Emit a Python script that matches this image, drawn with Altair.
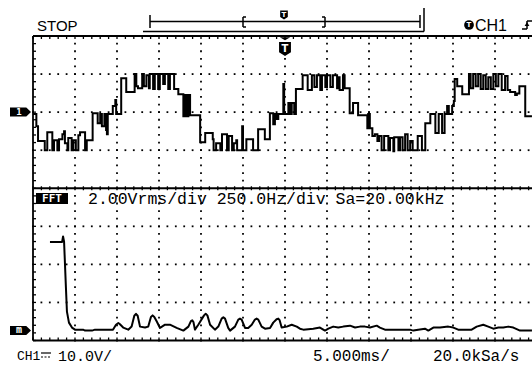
import altair as alt
import pandas as pd

# ---- instrument settings (read from the on-screen read-outs) ----
TIME_PER_DIV_MS = 5.0      # 5.000ms/
VOLT_PER_DIV = 10.0        # CH1 10.0V/
FFT_HZ_PER_DIV = 250.0     # 250.0Hz/div
FFT_VRMS_PER_DIV = 2.0     # 2.00Vrms/div
TRIGGER_DIV = 6.0          # trigger point, divisions from the left edge
CH1_REF_DIV = 6.0          # CH1 ground marker, divisions above the bottom
FFT_REF_DIV = 0.26         # FFT reference ("M" marker), divisions above bottom

# ---- CH1 trace: time (ms, relative to trigger) / volts, step-after ----
ch1_time_ms = [
    -30.0, -29.6, -29.4, -28.6, -28.3, -27.7, -27.5, -27.1, -26.9, -26.5,
    -26.3, -26.2, -25.9, -25.8, -25.4, -25.2, -24.9, -24.6, -24.4, -23.8,
    -23.6, -22.9, -22.3, -22.0, -21.8, -21.5, -21.3, -21.2, -21.1, -20.5,
    -20.2, -20.1, -19.5, -18.9, -17.9, -17.7, -17.5, -17.0, -16.8, -16.5,
    -16.2, -16.1, -15.7, -15.5, -15.1, -14.9, -14.5, -14.3, -13.9, -13.7,
    -13.2, -12.7, -12.1, -11.9, -11.7, -11.5, -11.3,
    -10.1, -9.5, -8.6, -8.5, -8.2, -7.7, -7.5, -6.9, -6.7, -6.3,
    -6.1, -5.8, -5.7, -5.1, -5.0, -4.6, -3.8, -3.2, -2.4, -1.8,
    -1.4, -1.2, -1.0, -0.8, -0.2, -0.1, 0.4, 0.6, 0.8, 1.1,
    1.3, 2.1, 2.7, 3.2, 3.5, 3.8, 4.2, 4.4, 4.8, 5.0,
    5.4, 5.7, 6.2, 6.3, 6.5, 6.9, 7.1, 7.7, 8.1, 8.7,
    9.8, 9.9, 10.1, 10.4, 10.7, 11.0, 11.2, 11.5, 11.8, 12.3,
    12.5, 12.9, 13.0, 13.5, 13.7, 14.0, 14.3, 14.6, 14.9, 15.2,
    15.8, 16.3, 16.7, 17.3, 17.9, 18.3, 18.7, 19.0, 19.3, 19.5,
    19.9, 20.1, 20.2, 20.5, 21.1, 21.9, 22.1, 22.4, 22.7, 23.0,
    23.3, 23.6, 23.9, 24.2, 24.5, 24.8, 25.1, 25.4, 25.8, 26.2,
    26.5, 26.8, 27.4, 27.6, 27.9, 28.6, 29.4,
]
ch1_volts = [
    -0.5, -3.7, -7.6, -10.0, -5.3, -10.0, -7.4, -10.0, -7.1, -5.8,
    -5.0, -8.2, -10.0, -6.8, -10.0, -7.4, -10.0, -6.1, -5.3, -10.0,
    -7.4, -0.3, -2.9, -0.5, -3.7, -0.5, -4.7, -5.8, -0.5, 1.6,
    3.2, -0.5, 8.9, 5.3, 10.0, 6.8, 6.3, 10.0, 6.8, 9.7,
    6.3, 10.0, 6.1, 10.0, 6.1, 10.0, 7.4, 10.0, 6.1, 10.0,
    6.1, 4.7, -1.1, 4.5, -1.1, 4.5, -0.8,
    -7.9, -5.5, -7.1, -10.0, -8.2, -10.0, -5.8, -10.0, -6.3, -10.0,
    -8.2, -7.4, -10.0, -3.7, -10.0, -7.1, -10.0, -4.5, -7.1, -0.3,
    -3.2, -0.5, -1.8, -0.5, 7.4, -0.5, 2.4, -0.5, 2.4, -0.5,
    6.1, 9.7, 5.8, 9.7, 6.6, 9.7, 5.8, 9.7, 6.6, 9.7,
    6.6, 9.7, 6.3, 9.2, 5.8, 9.7, 6.3, -0.3, 2.4, -0.8,
    -4.2, -0.5, -4.2, -6.3, -5.8, -7.6, -6.3, -10.0, -6.3, -10.0,
    -6.8, -10.3, -6.6, -10.0, -6.6, -10.0, -5.8, -10.0, -7.6, -10.0,
    -6.3, -10.0, -2.9, -0.5, -5.5, -0.5, -5.5, -0.5, 1.6, -0.5,
    1.6, 2.9, 8.7, 6.8, 4.7, 10.0, 6.3, 10.0, 6.8, 10.0,
    6.1, 9.7, 6.1, 9.2, 6.1, 10.0, 6.8, 10.0, 5.8, 9.5,
    5.8, 5.3, 4.5, 4.9, 6.8, -1.1, -1.1,
]

# ---- FFT trace: frequency (Hz) / amplitude (Vrms) ----
fft_freq_hz = [
    101, 173, 179, 185, 196, 202, 214, 232, 250, 298,
    310, 351, 369, 476, 494, 508, 516, 537, 567, 587,
    603, 613, 623, 637, 667, 686, 702, 712, 722, 736,
    756, 786, 815, 855, 895, 925, 940, 948, 955, 964,
    984, 1018, 1028, 1038, 1054, 1083, 1103, 1123, 1133, 1143,
    1162, 1173, 1202, 1222, 1232, 1242, 1262, 1281, 1302, 1321,
    1331, 1341, 1361, 1381, 1411, 1430, 1450, 1460, 1468, 1480,
    1510, 1540, 1570, 1589, 1609, 1668, 1708, 1738, 1758, 1787,
    1817, 1847, 1887, 1917, 1946, 1976, 2006, 2046, 2065, 2095,
    2244, 2264, 2293, 2333, 2353, 2383, 2423, 2472, 2502, 2531,
    2571, 2611, 2641, 2680, 2710, 2740, 2770, 2799, 2829, 2859,
    2899, 2970,
]
fft_vrms = [
    4.65, 4.65, 4.95, 4.67, 2.26, 1.00, 0.42, 0.16, 0.05, 0.05,
    0.0, 0.0, 0.05, 0.05, 0.31, 0.40, 0.35, 0.16, 0.05, 0.21,
    0.78, 0.88, 0.78, 0.21, 0.16, 0.21, 0.72, 0.80, 0.72, 0.49,
    0.14, 0.31, 0.31, 0.14, 0.0, 0.21, 0.50, 0.54, 0.45, 0.05,
    0.31, 0.80, 0.88, 0.80, 0.31, 0.05, 0.21, 0.63, 0.70, 0.63,
    0.14, 0.0, 0.21, 0.58, 0.63, 0.58, 0.14, 0.14, 0.31, 0.58,
    0.63, 0.58, 0.21, 0.10, 0.14, 0.42, 0.60, 0.63, 0.55, 0.16,
    0.21, 0.31, 0.21, 0.10, 0.05, 0.10, 0.16, 0.0, 0.10, 0.21,
    0.16, 0.21, 0.26, 0.16, 0.21, 0.21, 0.16, 0.26, 0.16, 0.05,
    0.05, 0.0, 0.05, 0.10, 0.0, 0.16, 0.16, 0.21, 0.16, 0.05,
    0.05, 0.05, 0.21, 0.31, 0.21, 0.10, 0.16, 0.16, 0.21, 0.16,
    0.0, 0.0,
]

# ---- screen texts ----
status_text = "STOP"
trig_source = "CH1"
fft_tag = "FFT"
fft_info = "2.00Vrms/div 250.0Hz/div Sa=20.00kHz"
ch1_label = "CH1"
ch1_scale = "10.0V/"
time_scale = "5.000ms/"
sample_rate = "20.0kSa/s"

# ---- build tables in screen divisions ----
ch1 = pd.DataFrame({"t": ch1_time_ms, "v": ch1_volts})
ch1["xd"] = TRIGGER_DIV + ch1["t"] / TIME_PER_DIV_MS
ch1["yd"] = CH1_REF_DIV + ch1["v"] / VOLT_PER_DIV

fft = pd.DataFrame({"f": fft_freq_hz, "a": fft_vrms})
fft["xd"] = fft["f"] / FFT_HZ_PER_DIV
fft["yd"] = FFT_REF_DIV + fft["a"] / FFT_VRMS_PER_DIV

W, H = 532, 369
X0, DX = 33.0, 42.0      # graticule left edge (px), px per division
Y0, DY = 340.5, 38.06    # graticule bottom edge (px), px per division
xs = alt.Scale(domain=[-X0 / DX, (W - X0) / DX], nice=False, zero=False)
ys = alt.Scale(domain=[(Y0 - H) / DY, Y0 / DY], nice=False, zero=False)


def XQ(f):
    return alt.X(f, type="quantitative", scale=xs, axis=None)


def YQ(f):
    return alt.Y(f, type="quantitative", scale=ys, axis=None)


ONE = pd.DataFrame({"k": [0]})
layers = []

# graticule dots: 5 per division along each interior grid line
gx, gy = [], []
for i in range(1, 12):
    for k in range(41):
        gx.append(float(i)); gy.append(k * 0.2)
for j in (1, 2, 3, 5, 6, 7):
    for k in range(61):
        gx.append(k * 0.2); gy.append(float(j))
dots = pd.DataFrame({"xd": gx, "yd": gy})
layers.append(
    alt.Chart(dots).mark_square(color="black", size=3.2, opacity=1)
    .encode(x=XQ("xd"), y=YQ("yd"))
)

# solid frame lines
frame = pd.DataFrame({
    "x1": [0.0, 0.0, 0.0, 0.0], "x2": [0.0, 12.0, 12.0, 12.0],
    "y1": [0.0, 8.0, 4.0, 0.0], "y2": [8.0, 8.0, 4.0, 0.0],
})
# small ticks on the frame
tx1, tx2, ty1, ty2 = [], [], [], []
for k in range(41):
    tx1.append(0.0); tx2.append(3 / DX); ty1.append(k * 0.2); ty2.append(k * 0.2)
for k in range(61):
    x = k * 0.2
    tx1 += [x, x, x]; tx2 += [x, x, x]
    ty1 += [8.0, 4.0 - 2 / DY, 0.0]
    ty2 += [8.0 - 3 / DY, 4.0 + 2 / DY, 3 / DY]
ticks = pd.DataFrame({"x1": tx1, "x2": tx2, "y1": ty1, "y2": ty2})
for df, w in ((frame, 1.8), (ticks, 1.3)):
    layers.append(
        alt.Chart(df).mark_rule(color="black", strokeWidth=w)
        .encode(x=XQ("x1"), x2="x2", y=YQ("y1"), y2="y2")
    )

# traces
layers.append(
    alt.Chart(ch1).mark_line(color="black", strokeWidth=2, interpolate="step-after")
    .encode(x=XQ("xd"), y=YQ("yd"))
)
layers.append(
    alt.Chart(fft).mark_line(color="black", strokeWidth=2, strokeJoin="round")
    .encode(x=XQ("xd"), y=YQ("yd"))
)


def txt(s, x, y, size=15, font="Liberation Mono", color="black", align="left", weight="normal"):
    return alt.Chart(ONE).mark_text(
        text=s, font=font, fontSize=size, color=color, align=align,
        baseline="middle", fontWeight=weight,
    ).encode(x=alt.value(x), y=alt.value(y))


def seg(x1, y1, x2, y2, w=1.5, dash=None):
    kw = dict(color="black", strokeWidth=w)
    if dash is not None:
        kw["strokeDash"] = dash
    return alt.Chart(ONE).mark_rule(**kw).encode(
        x=alt.value(x1), x2=alt.value(x2), y=alt.value(y1), y2=alt.value(y2))


def sym(shape, x, y, size, color="black"):
    return alt.Chart(ONE).mark_point(
        shape=shape, size=size, filled=True, color=color, opacity=1, strokeWidth=0
    ).encode(x=alt.value(x), y=alt.value(y))


def rect(x1, y1, x2, y2):
    return alt.Chart(ONE).mark_rect(color="black").encode(
        x=alt.value(x1), x2=alt.value(x2), y=alt.value(y1), y2=alt.value(y2))


FLAG = "M-1,-0.43 L0.55,-0.43 L1,0 L0.55,0.43 L-1,0.43 Z"
SHIELD = "M-0.85,-1 L0.85,-1 L0.85,0.45 L0,1 L-0.85,0.45 Z"
TRI = "M-1,-0.25 L1,-0.25 L0,0.35 Z"

# top status line
layers.append(txt(status_text, 37, 26, size=15, font="Liberation Sans"))
# memory bar
layers += [
    seg(150, 21.5, 420, 21.5), seg(150, 15, 150, 28), seg(420, 15, 420, 28),
    seg(243, 17, 243, 27), seg(243, 17, 246, 17), seg(243, 27, 246, 27),
    seg(325, 17, 325, 27), seg(322, 17, 325, 17), seg(322, 27, 325, 27),
    seg(143, 31.5, 424, 31.5), seg(424, 8, 424, 31.5),
    sym(SHIELD, 284, 15, 81),
    txt("T", 284, 14.5, size=7, color="white", align="center", weight="bold", font="DejaVu Sans"),
]
# trigger source
layers += [
    sym("circle", 469, 25, 95),
    txt("T", 469, 25, size=7, color="white", align="center", weight="bold", font="DejaVu Sans"),
    txt(trig_source, 475, 26, size=16, font="Liberation Sans"),
    seg(522, 29, 527, 29), seg(527, 29, 527, 21), seg(527, 21, 532, 21),
    sym("triangle-up", 527, 24, 22),
]
# trigger position marker
layers += [
    sym(TRI, 285, 38.5, 110),
    sym(SHIELD, 285, 49, 196),
    txt("T", 285, 48.5, size=10, color="white", align="center", weight="bold", font="DejaVu Sans"),
]
# channel / FFT reference flags
layers += [
    sym(FLAG, 20.5, 112, 441),
    txt("1", 19, 112, size=9, color="white", align="center", weight="bold", font="DejaVu Sans Mono"),
    sym(FLAG, 20.5, 330.5, 441),
    txt("m", 19, 330, size=10, color="white", align="center", weight="bold", font="DejaVu Sans Mono"),
]
# FFT header
layers += [
    rect(36, 193, 68, 204),
    txt(fft_tag, 52, 198.5, size=11, color="white", align="center", weight="bold", font="DejaVu Sans Mono"),
    txt(fft_info, 88, 199, size=16.5),
]
# bottom status line
layers += [
    txt(ch1_label, 17, 356, size=13),
    seg(41, 353, 51, 353, w=1.2), seg(41, 357, 51, 357, w=1.2, dash=[2, 1.5]),
    txt(ch1_scale, 58, 356, size=15),
    txt(time_scale, 313, 356, size=16),
    txt(sample_rate, 433, 356, size=16),
]

chart = alt.layer(*layers).properties(
    width=W, height=H, padding=0, autosize=alt.AutoSizeParams(type="none"),
    background="white",
).configure_view(stroke=None)

chart.save("out.html", embed_options={"renderer": "svg", "actions": False})
